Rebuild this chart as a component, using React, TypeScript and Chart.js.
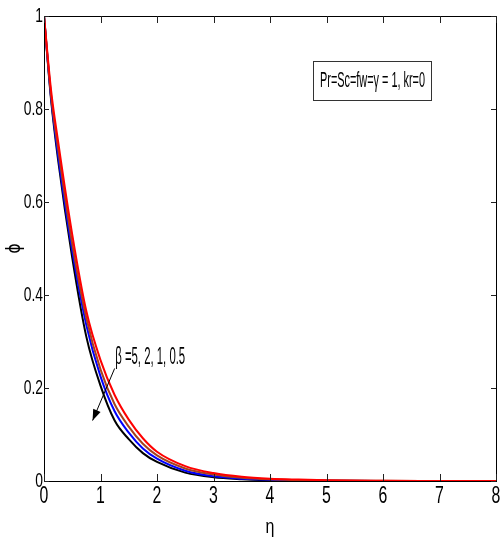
import { useEffect, useRef } from 'react';
import { Chart, registerables } from 'chart.js';

Chart.register(...registerables);

// ---- data ----
const ETA = [0, 0.125, 0.25, 0.5, 0.75, 1, 1.25, 1.5, 1.75, 2, 2.5, 3, 3.5, 4, 4.5, 5, 6, 7, 8];
const PHI_BETA_5 = [1, 0.82, 0.69, 0.48, 0.31, 0.205, 0.13, 0.09, 0.06, 0.041, 0.018, 0.008, 0.004, 0.002, 0.001, 0.0005, 0.0001, 0, 0];
const PHI_BETA_2 = [1, 0.825, 0.7, 0.495, 0.335, 0.225, 0.15, 0.104, 0.07, 0.048, 0.022, 0.01, 0.005, 0.0025, 0.0012, 0.0006, 0.0001, 0, 0];
const PHI_BETA_1 = [1, 0.83, 0.715, 0.51, 0.35, 0.24, 0.165, 0.117, 0.08, 0.055, 0.027, 0.014, 0.007, 0.0035, 0.002, 0.001, 0.0003, 0.0001, 0];
const PHI_BETA_05 = [1, 0.84, 0.73, 0.53, 0.365, 0.26, 0.185, 0.132, 0.092, 0.063, 0.032, 0.017, 0.009, 0.005, 0.003, 0.0015, 0.0005, 0.0002, 0];

const X_TICKS = [0, 1, 2, 3, 4, 5, 6, 7, 8];
const X_TICK_LABELS = ['0', '1', '2', '3', '4', '5', '6', '7', '8'];
const Y_TICKS = [0, 0.2, 0.4, 0.6, 0.8, 1];
const Y_TICK_LABELS = ['0', '0.2', '0.4', '0.6', '0.8', '1'];

const X_TITLE = 'η';
const Y_TITLE = 'ϕ';
const BETA_LABEL = 'β =5, 2, 1, 0.5';
const PARAM_LABEL = 'Pr=Sc=fw=γ = 1, kr=0';

const FONT = "'Liberation Sans', Arial, sans-serif";

function drawSquished(
  ctx: CanvasRenderingContext2D,
  text: string,
  x: number,
  y: number,
  font: string,
  sx: number,
  align: 'left' | 'center' | 'right',
  baseline: CanvasTextBaseline
) {
  ctx.save();
  ctx.font = font;
  ctx.textBaseline = baseline;
  ctx.textAlign = 'left';
  ctx.fillStyle = '#000';
  const w = ctx.measureText(text).width * sx;
  const left = align === 'center' ? x - w / 2 : align === 'right' ? x - w : x;
  ctx.translate(left, y);
  ctx.scale(sx, 1);
  ctx.fillText(text, 0, 0);
  ctx.restore();
}

function fitWidth(ctx: CanvasRenderingContext2D, text: string, font: string, target: number) {
  ctx.save();
  ctx.font = font;
  const w = ctx.measureText(text).width;
  ctx.restore();
  return target / w;
}

const decorPlugin = {
  id: 'matlabDecor',
  afterDraw(chart: any) {
    const ctx: CanvasRenderingContext2D = chart.ctx;
    const { left, right, top, bottom } = chart.chartArea;
    const xs = chart.scales.x;
    const ys = chart.scales.y;
    ctx.save();
    // box
    ctx.strokeStyle = '#000';
    ctx.lineWidth = 1;
    ctx.strokeRect(Math.round(left) + 0.5, Math.round(top) + 0.5, Math.round(right - left), Math.round(bottom - top));

    // inner ticks
    ctx.strokeStyle = '#222';
    ctx.beginPath();
    X_TICKS.forEach((v) => {
      const px = Math.round(xs.getPixelForValue(v)) + 0.5;
      ctx.moveTo(px, bottom);
      ctx.lineTo(px, bottom - 7);
      ctx.moveTo(px, top);
      ctx.lineTo(px, top + 7);
    });
    Y_TICKS.forEach((v) => {
      const py = Math.round(ys.getPixelForValue(v)) + 0.5;
      ctx.moveTo(left, py);
      ctx.lineTo(left + 5, py);
      ctx.moveTo(right, py);
      ctx.lineTo(right - 5, py);
    });
    ctx.stroke();

    // tick labels
    X_TICKS.forEach((v, i) => {
      drawSquished(ctx, X_TICK_LABELS[i], xs.getPixelForValue(v), bottom + 15, `24px ${FONT}`, 0.66, 'center', 'middle');
    });
    Y_TICKS.forEach((v, i) => {
      drawSquished(ctx, Y_TICK_LABELS[i], left - 1, ys.getPixelForValue(v), `21px ${FONT}`, 0.66, 'right', 'middle');
    });

    // axis titles
    drawSquished(ctx, X_TITLE, (left + right) / 2, 527, `20px ${FONT}`, 0.8, 'center', 'middle');
    ctx.save();
    ctx.translate(15, (top + bottom) / 2);
    ctx.rotate(-Math.PI / 2);
    drawSquished(ctx, Y_TITLE, 0, 0, `19px 'DejaVu Sans', sans-serif`, 0.8, 'center', 'middle');
    ctx.restore();

    // beta annotation
    const bf = `23px ${FONT}`;
    drawSquished(ctx, BETA_LABEL, xs.getPixelForValue(1.26), ys.getPixelForValue(0.266), bf, fitWidth(ctx, BETA_LABEL, bf, 70), 'left', 'middle');

    // arrow
    const ax0 = xs.getPixelForValue(1.25);
    const ay0 = ys.getPixelForValue(0.242);
    const ax1 = xs.getPixelForValue(0.86);
    const ay1 = ys.getPixelForValue(0.13);
    ctx.strokeStyle = '#000';
    ctx.fillStyle = '#000';
    ctx.lineWidth = 1;
    ctx.beginPath();
    ctx.moveTo(ax0, ay0);
    ctx.lineTo(ax1, ay1);
    ctx.stroke();
    const ang = Math.atan2(ay1 - ay0, ax1 - ax0);
    const hl = 11;
    const hw = 4;
    ctx.beginPath();
    ctx.moveTo(ax1, ay1);
    ctx.lineTo(ax1 - hl * Math.cos(ang) + hw * Math.sin(ang), ay1 - hl * Math.sin(ang) - hw * Math.cos(ang));
    ctx.lineTo(ax1 - hl * Math.cos(ang) - hw * Math.sin(ang), ay1 - hl * Math.sin(ang) + hw * Math.cos(ang));
    ctx.closePath();
    ctx.fill();

    // parameter box
    ctx.strokeStyle = '#333';
    ctx.lineWidth = 1;
    ctx.fillStyle = '#fff';
    ctx.fillRect(313.5, 61.5, 118, 39);
    ctx.strokeRect(313.5, 61.5, 118, 39);
    const pf = `22px ${FONT}`;
    drawSquished(ctx, PARAM_LABEL, 372.5, 81, pf, fitWidth(ctx, PARAM_LABEL, pf, 105), 'center', 'middle');

    ctx.restore();
  },
};

function series(vals: number[]) {
  return ETA.map((x, i) => ({ x, y: vals[i] }));
}

export default function App() {
  const ref = useRef<HTMLCanvasElement | null>(null);
  useEffect(() => {
    document.body.style.margin = '0';
    const canvas = ref.current;
    if (!canvas) return;
    const common = {
      borderWidth: 2,
      pointRadius: 0,
      fill: false,
      cubicInterpolationMode: 'monotone' as const,
    };
    const chart = new Chart(canvas, {
      type: 'line',
      data: {
        datasets: [
          { ...common, label: 'β=0.5', data: series(PHI_BETA_05), borderColor: '#ff0000', order: 1 },
          { ...common, label: 'β=1', data: series(PHI_BETA_1), borderColor: '#a5421e', order: 2 },
          { ...common, label: 'β=2', data: series(PHI_BETA_2), borderColor: '#0000ff', order: 3 },
          { ...common, label: 'β=5', data: series(PHI_BETA_5), borderColor: '#000000', order: 4 },
        ],
      },
      options: {
        responsive: false,
        animation: false,
        devicePixelRatio: 1,
        layout: { padding: { left: 44, right: 5, top: 16, bottom: 58 } },
        plugins: { legend: { display: false }, tooltip: { enabled: false } },
        scales: {
          x: { type: 'linear', min: 0, max: 8, display: false },
          y: { type: 'linear', min: 0, max: 1, display: false },
        },
      },
      plugins: [decorPlugin],
    });
    return () => chart.destroy();
  }, []);
  return <canvas ref={ref} width={501} height={539} style={{ display: 'block' }} />;
}
